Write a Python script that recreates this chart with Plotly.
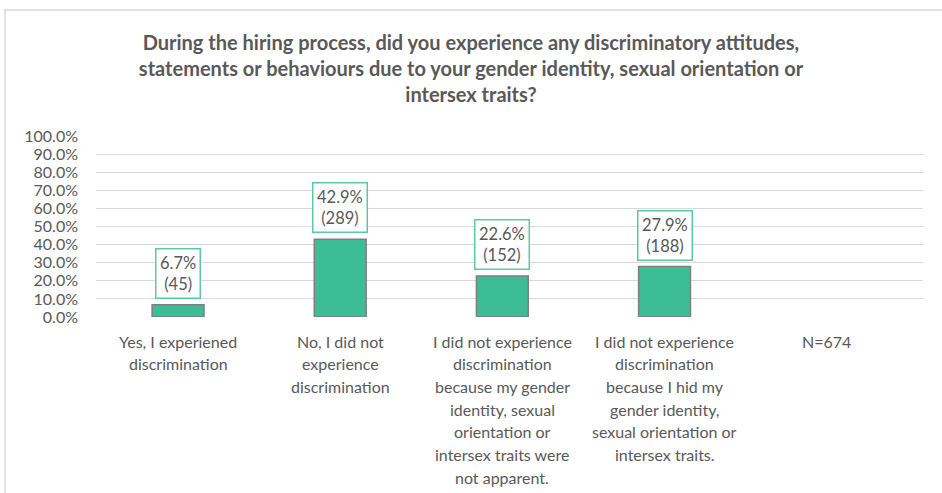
import plotly.graph_objects as go

categories = [
    "Yes, I experiened\ndiscrimination",
    "No, I did not\nexperience\ndiscrimination",
    "I did not experience\ndiscrimination\nbecause my gender\nidentity, sexual\norientation or\nintersex traits were\nnot apparent.",
    "I did not experience\ndiscrimination\nbecause I hid my\ngender identity,\nsexual orientation or\nintersex traits.",
    "N=674",
]
shares = [0.067, 0.429, 0.226, 0.279, None]
counts = [45, 289, 152, 188, None]
title_text = ("During the hiring process, did you experience any discriminatory attitudes,<br>"
              "statements or behaviours due to your gender identity, sexual orientation or<br>"
              "intersex traits?")

W, H = 942, 493
ML, MR, MT, MB = 96, 19, 136, 176
PW, PH = W - ML - MR, H - MT - MB
TXT = "#595959"
GREEN = "#3dbd93"
FONT = "Lato"
FS = 16

x_idx = list(range(len(categories)))

fig = go.Figure()
fig.add_trace(go.Bar(
    x=x_idx, y=shares, width=0.32,
    marker=dict(color=GREEN, line=dict(color="#7f7f7f", width=1.5)),
    hoverinfo="skip",
))

annotations = []
# data labels
for i, (s, c) in enumerate(zip(shares, counts)):
    if s is None:
        continue
    annotations.append(dict(
        x=i, y=s, xref="x", yref="y", yanchor="bottom", yshift=6,
        text=f"{s*100:.1f}%<br>({c})", showarrow=False,
        font=dict(family=FONT, size=16.5, color=TXT),
        bgcolor="white", bordercolor="#5cc8a5", borderwidth=1.5, borderpad=3.5,
    ))
# category labels, one line each
for i, lab in enumerate(categories):
    for j, line in enumerate(lab.split("\n")):
        annotations.append(dict(
            x=i, y=0, xref="x", yref="paper", yanchor="middle", xanchor="center",
            yshift=-(24 + j * 22.7), text=line, showarrow=False,
            font=dict(family=FONT, size=FS, color=TXT),
        ))

def px_x(p):
    return (p - ML) / PW

def px_y(p):
    return (H - MB - p) / PH

fig.update_layout(
    width=W, height=H,
    margin=dict(l=ML, r=MR, t=MT, b=MB),
    paper_bgcolor="white", plot_bgcolor="white",
    showlegend=False,
    title=dict(text=title_text, x=0.5, xanchor="center", xref="container",
               y=1 - 50 / H, yanchor="top",
               font=dict(family=FONT, size=20, color=TXT, weight="bold")),
    xaxis=dict(range=[-0.506, 4.594], showticklabels=False, showgrid=False,
               zeroline=False, showline=False, fixedrange=True),
    yaxis=dict(range=[0, 1.0], dtick=0.1, tickformat=".1%", showgrid=True,
               gridcolor="#d9d9d9", gridwidth=1, zeroline=False, showline=False,
               tickfont=dict(family=FONT, size=FS, color=TXT), ticks="",
               ticklabelstandoff=17, fixedrange=True),
    annotations=annotations,
    shapes=[dict(type="rect", xref="paper", yref="paper",
                 x0=px_x(5), x1=px_x(960), y0=px_y(510), y1=px_y(10),
                 line=dict(color="#d9d9d9", width=1.5), fillcolor="rgba(0,0,0,0)",
                 layer="below")],
)

fig.write_html("out.html", config={"displayModeBar": False},
               post_script="document.body.style.margin='0';document.body.style.padding='0';")
